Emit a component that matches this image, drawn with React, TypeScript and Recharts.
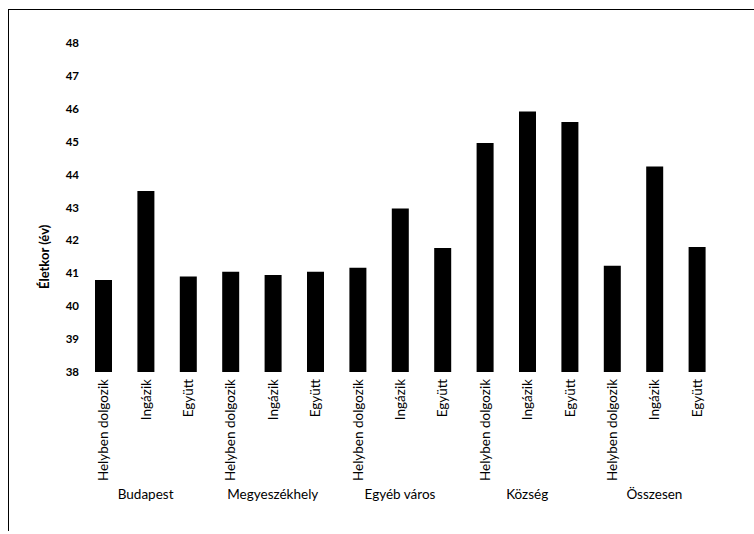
import React from 'react';
import { BarChart, Bar, XAxis, YAxis } from 'recharts';

const groups = ['Budapest', 'Megyeszékhely', 'Egyéb város', 'Község', 'Összesen'];
const subCategories = ['Helyben dolgozik', 'Ingázik', 'Együtt'];
const values = [
  40.8, 43.5, 40.9,
  41.05, 40.95, 41.05,
  41.17, 42.97, 41.77,
  44.96, 45.92, 45.6,
  41.23, 44.25, 41.8,
];
const yTicks = [38, 39, 40, 41, 42, 43, 44, 45, 46, 47, 48];

const data = values.map((v, i) => ({
  name: subCategories[i % 3],
  group: groups[Math.floor(i / 3)],
  value: v,
}));

const FONT = 'Lato, "Noto Sans", sans-serif';

const CategoryTick = (props: any) => {
  const { x, y, payload, index } = props;
  const idx = index ?? payload.index;
  return (
    <g>
      <text
        x={x}
        y={y}
        transform={`rotate(-90, ${x}, ${y})`}
        textAnchor="end"
        dominantBaseline="central"
        fontSize={13.5}
        fontFamily={FONT}
        fill="#000"
      >
        {payload.value}
      </text>
      {idx % 3 === 1 && (
        <text
          x={x}
          y={y + 120}
          textAnchor="middle"
          fontSize={13.5}
          fontFamily={FONT}
          fill="#000"
        >
          {data[idx].group}
        </text>
      )}
    </g>
  );
};

const AxisTitle = (props: any) => {
  const { viewBox } = props;
  const x = viewBox.x + 44;
  const y = viewBox.y + viewBox.height * 0.65;
  return (
    <text
      x={x}
      y={y}
      transform={`rotate(-90, ${x}, ${y})`}
      textAnchor="middle"
      dominantBaseline="central"
      fontSize={13}
      fontWeight="bold"
      fontFamily={FONT}
      fill="#000"
    >
      Életkor (év)
    </text>
  );
};

export default function App() {
  return (
    <div style={{ position: 'absolute', left: 0, top: 0, width: 754, height: 534, background: '#fff' }}>
      <div
        style={{
          position: 'absolute',
          left: 8,
          top: 9,
          width: 746,
          height: 522,
          borderTop: '1px solid #000',
          borderLeft: '1px solid #000',
          boxSizing: 'border-box',
        }}
      />
      <BarChart
        width={754}
        height={534}
        data={data}
        margin={{ top: 43, right: 36, bottom: 0, left: 0 }}
        barSize={17}
      >
        <XAxis
          dataKey="name"
          axisLine={false}
          tickLine={false}
          interval={0}
          height={162}
          tickSize={0}
          tickMargin={7}
          tick={<CategoryTick />}
        />
        <YAxis
          domain={[38, 48]}
          ticks={yTicks}
          width={82}
          axisLine={false}
          tickLine={false}
          tickSize={0}
          tickMargin={3}
          allowDataOverflow
          tick={{ fontSize: 11.5, fontWeight: 'bold', fontFamily: FONT, fill: '#000' }}
          label={<AxisTitle />}
        />
        <Bar dataKey="value" fill="#000" isAnimationActive={false} />
      </BarChart>
    </div>
  );
}
